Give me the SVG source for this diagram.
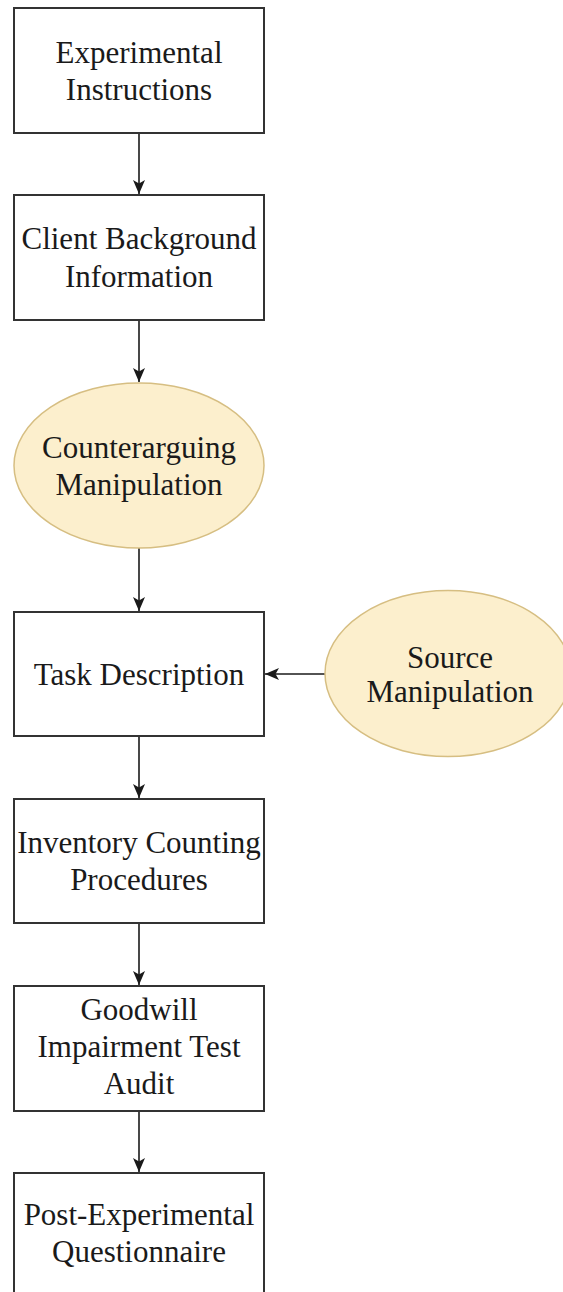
<svg xmlns="http://www.w3.org/2000/svg" width="563" height="1292" viewBox="0 0 563 1292">
<style>
.box{fill:#ffffff;stroke:#333333;stroke-width:2}
.ell{fill:#fcefcd;stroke:#d6be82;stroke-width:1.5}
.t{font-family:"Liberation Serif","Times New Roman",serif;font-size:31px;fill:#1a1a1a;text-anchor:middle}
.c{stroke:#1a1a1a;stroke-width:1.6;fill:none}
</style>
<defs>
<marker id="ah" viewBox="0 0 14 14" refX="14" refY="7" markerWidth="14" markerHeight="14" markerUnits="userSpaceOnUse" orient="auto">
<path d="M0,1 L14,7 L0,13 L3.5,7 Z" fill="#1a1a1a"/>
</marker>
</defs>
<rect width="563" height="1292" fill="#ffffff"/>
<g id="connectors">
<line class="c" x1="139" y1="133" x2="139" y2="194" marker-end="url(#ah)"/>
<line class="c" x1="139" y1="320" x2="139" y2="382" marker-end="url(#ah)"/>
<line class="c" x1="139" y1="548" x2="139" y2="611" marker-end="url(#ah)"/>
<line class="c" x1="139" y1="736" x2="139" y2="798" marker-end="url(#ah)"/>
<line class="c" x1="139" y1="923" x2="139" y2="985" marker-end="url(#ah)"/>
<line class="c" x1="139" y1="1111" x2="139" y2="1172" marker-end="url(#ah)"/>
<line class="c" x1="325" y1="674" x2="265" y2="674" marker-end="url(#ah)"/>
</g>
<g id="experimental-instructions">
<rect class="box" x="14" y="8" width="250" height="125"/>
<text class="t" x="139" y="63">Experimental</text>
<text class="t" x="139" y="100">Instructions</text>
</g>
<g id="client-background">
<rect class="box" x="14" y="195" width="250" height="125"/>
<text class="t" x="139" y="249">Client Background</text>
<text class="t" x="139" y="287">Information</text>
</g>
<g id="counterarguing">
<ellipse class="ell" cx="139" cy="465.5" rx="125" ry="82.5"/>
<text class="t" x="139" y="458">Counterarguing</text>
<text class="t" x="139" y="495">Manipulation</text>
</g>
<g id="task-description">
<rect class="box" x="14" y="612" width="250" height="124"/>
<text class="t" x="139" y="685">Task Description</text>
</g>
<g id="source-manipulation">
<ellipse class="ell" cx="448" cy="673.5" rx="123" ry="83"/>
<text class="t" x="450" y="668">Source</text>
<text class="t" x="450" y="702">Manipulation</text>
</g>
<g id="inventory-counting">
<rect class="box" x="14" y="799" width="250" height="124"/>
<text class="t" x="139" y="853">Inventory Counting</text>
<text class="t" x="139" y="890">Procedures</text>
</g>
<g id="goodwill">
<rect class="box" x="14" y="986" width="250" height="125"/>
<text class="t" x="139" y="1020">Goodwill</text>
<text class="t" x="139" y="1057">Impairment Test</text>
<text class="t" x="139" y="1094">Audit</text>
</g>
<g id="post-experimental">
<rect class="box" x="14" y="1173" width="250" height="130"/>
<text class="t" x="139" y="1225">Post-Experimental</text>
<text class="t" x="139" y="1262">Questionnaire</text>
</g>
</svg>
